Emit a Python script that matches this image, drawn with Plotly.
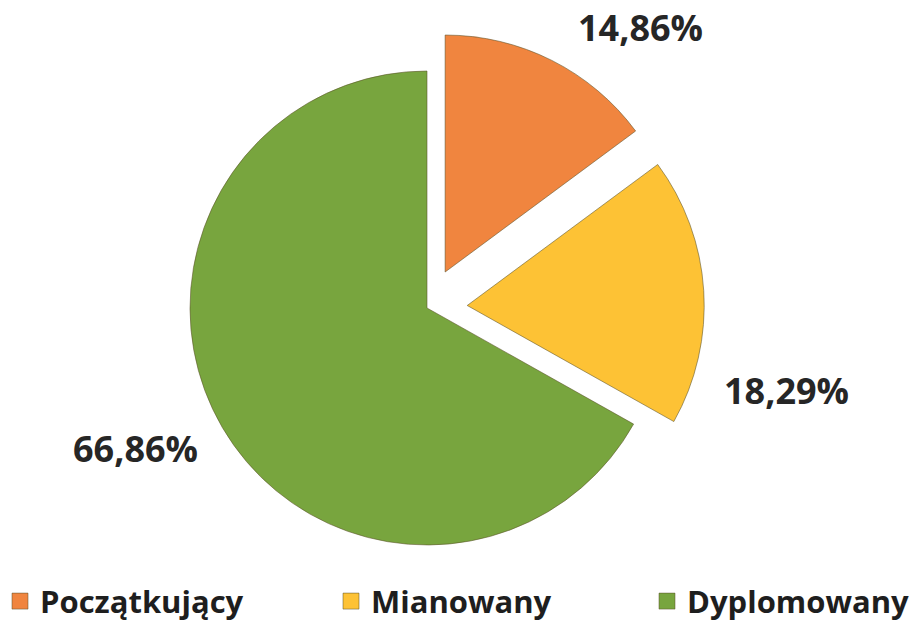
import plotly.graph_objects as go

categories = ["Początkujący", "Mianowany", "Dyplomowany"]
values = [14.86, 18.29, 66.86]
colors = ["#F0853F", "#FDC235", "#78A53E"]
pulls = [0.17, 0.17, 0.0]

text_labels = [f"{v:.2f}".replace(".", ",") + "%" for v in values]

W, H = 915, 621
cx, cy = 427, 308
R = 237
half = R * (1 + max(pulls))

# label centres (px) and legend entry widths (px) - layout only
label_pos = [(640, 28), (786, 390), (135, 448)]
legend_widths = [286, 271, 225]

FONT = "Open Sans"

fig = go.Figure()
fig.add_trace(go.Pie(
    labels=categories,
    values=values,
    textinfo="none",
    sort=False,
    direction="clockwise",
    rotation=0,
    pull=pulls,
    showlegend=False,
    marker=dict(colors=colors, line=dict(color="rgba(90,80,40,0.55)", width=1)),
    domain=dict(x=[(cx - half) / W, (cx + half) / W],
                y=[(H - cy - half) / H, (H - cy + half) / H]),
    hoverinfo="label+percent",
))

# legend entries (no visible data)
for name, col, lw in zip(categories, colors, legend_widths):
    fig.add_trace(go.Scatter(
        x=[None], y=[None], mode="markers", name=name,
        marker=dict(symbol="square", size=18, color=col,
                    line=dict(color="rgba(90,80,40,0.5)", width=1)),
        legendwidth=lw, showlegend=True, hoverinfo="skip",
    ))

for txt, (px, py) in zip(text_labels, label_pos):
    fig.add_annotation(
        x=px / W, y=1 - py / H, xref="paper", yref="paper",
        text=txt, showarrow=False, xanchor="center", yanchor="middle",
        font=dict(family=FONT, size=36, color="#262626", weight="bold"),
    )

fig.update_layout(
    width=W, height=H,
    margin=dict(l=0, r=0, t=0, b=0, autoexpand=False),
    paper_bgcolor="white",
    plot_bgcolor="white",
    xaxis=dict(visible=False),
    yaxis=dict(visible=False),
    showlegend=True,
    legend=dict(
        orientation="h",
        x=0.0, xanchor="left",
        y=-0.012, yanchor="bottom",
        font=dict(family=FONT, size=31, color="#1e1e1e", weight="bold"),
        itemsizing="trace",
        bgcolor="rgba(0,0,0,0)",
    ),
)

fig.write_html(
    "out.html",
    config={"displayModeBar": False},
    post_script="document.body.style.margin='0';document.body.style.overflow='hidden';",
)
